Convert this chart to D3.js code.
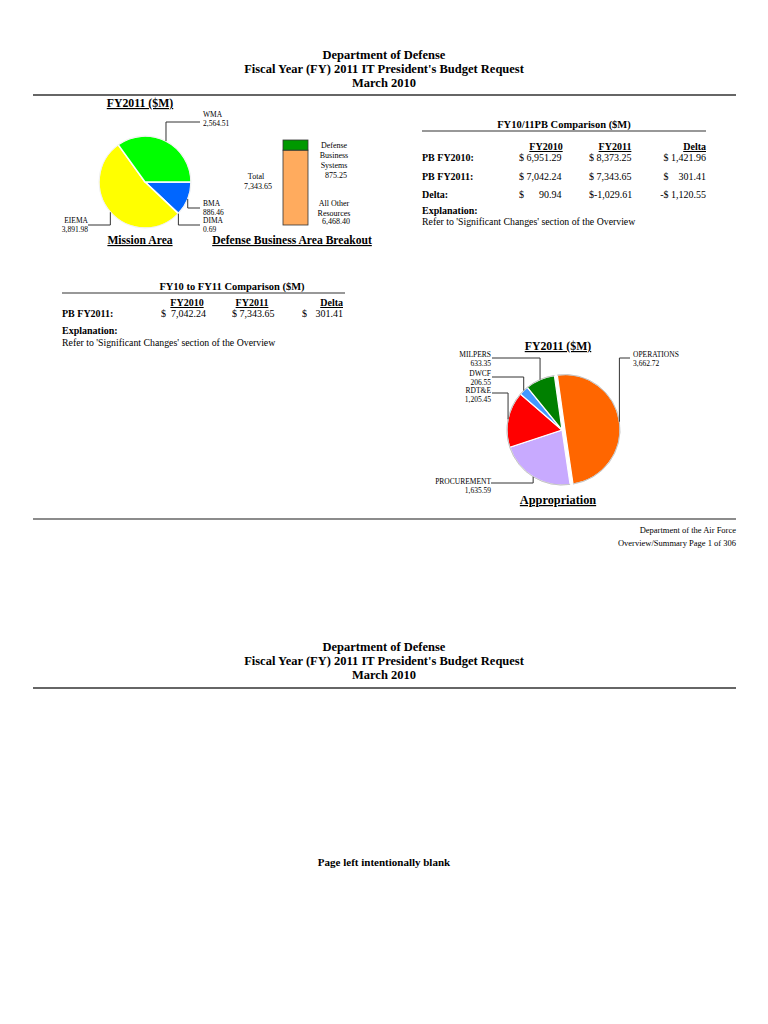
<!DOCTYPE html>
<html><head><meta charset="utf-8">
<script src="https://cdn.jsdelivr.net/npm/d3@7"></script>
<style>
html,body{margin:0;padding:0;background:#fff;}
svg{display:block;font-family:"Liberation Serif","Times New Roman",serif;}
</style></head>
<body><svg id="c" width="768" height="1024"></svg>
<script>
// ---------- data ----------
const headerLines = ["Department of Defense", "Fiscal Year (FY) 2011 IT President's Budget Request", "March 2010"];
const missionNames = ["BMA", "DIMA", "EIEMA", "WMA"];
const missionValues = [886.46, 0.69, 3891.98, 2564.51];
const missionLabels = ["886.46", "0.69", "3,891.98", "2,564.51"];
const dbaNames = ["All Other Resources", "Defense Business Systems"];
const dbaValues = [6468.40, 875.25];
const dbaTotalLabel = "7,343.65";
const apprNames = ["OPERATIONS", "PROCUREMENT", "RDT&E", "DWCF", "MILPERS"];
const apprValues = [3662.72, 1635.59, 1205.45, 206.55, 633.35];
const apprLabels = ["3,662.72", "1,635.59", "1,205.45", "206.55", "633.35"];
const cmpCols = ["FY2010", "FY2011", "Delta"];
const cmpRows = ["PB FY2010:", "PB FY2011:", "Delta:"];
const cmpCells = [["$ 6,951.29", "$ 8,373.25", "$ 1,421.96"],
                  ["$ 7,042.24", "$ 7,343.65", "$    301.41"],
                  ["$      90.94", "$-1,029.61", "-$ 1,120.55"]];
const fyRows = ["PB FY2011:"];
const fyCells = [["7,042.24", "$ 7,343.65", "301.41"]];
const explanation = "Refer to 'Significant Changes' section of the Overview";

// ---------- drawing ----------
const svg = d3.select("#c");

function txt(x, y, s, size, opts = {}) {
  const t = svg.append("text").attr("x", x).attr("y", y).text(s)
    .attr("font-size", size).attr("fill", "#000")
    .attr("font-weight", opts.bold ? "bold" : "normal")
    .attr("text-anchor", opts.anchor || "start");
  if (opts.underline) t.attr("text-decoration", "underline");
  t.style("white-space", "pre");
  return t;
}
function rule(x1, x2, y, w, c) {
  svg.append("line").attr("x1", x1).attr("x2", x2).attr("y1", y).attr("y2", y)
    .attr("stroke", c || "#555").attr("stroke-width", w || 2);
}

// page 1 header
headerLines.forEach((s, i) => txt(384, 59 + i * 14, s, 12.5, {bold: true, anchor: "middle"}));
rule(33, 736, 95, 2, "#666");

// ---------- Mission Area pie ----------
const mcx = 145, mcy = 182, mr = 46;
const missionColors = ["#0066ff", "#ffffff", "#ffff00", "#00ff00"];
const pie1 = d3.pie().sort(null).value(d => d)
  .startAngle(Math.PI / 2).endAngle(Math.PI / 2 + 2 * Math.PI);
const arcs1 = pie1(missionValues);
const arc1 = d3.arc().innerRadius(0).outerRadius(mr);
const g1 = svg.append("g").attr("transform", `translate(${mcx},${mcy})`);
g1.selectAll("path").data(arcs1).join("path")
  .attr("d", arc1).attr("fill", (d, i) => missionColors[i])
  .attr("stroke", "#fff").attr("stroke-width", 1.5);
g1.append("circle").attr("r", mr).attr("fill", "none").attr("stroke", "#e6e6e6").attr("stroke-width", 0.6);

const m1Lab = [
  {x: 200, y: 208, tx: 203, ty: 206, anchor: "start"},   // BMA
  {x: 200, y: 225, tx: 203, ty: 223, anchor: "start"},   // DIMA
  {x: 88, y: 225, tx: 88, ty: 223, anchor: "end"},       // EIEMA
  {x: 200, y: 122, tx: 203, ty: 117, anchor: "start"}    // WMA
];
arcs1.forEach((a, i) => {
  const mid = (a.startAngle + a.endAngle) / 2;
  const px = mcx + mr * Math.sin(mid), py = mcy - mr * Math.cos(mid);
  const L = m1Lab[i];
  svg.append("polyline").attr("points", `${px},${py} ${px},${L.y} ${L.x},${L.y}`)
    .attr("fill", "none").attr("stroke", "#333").attr("stroke-width", 1);
  txt(L.tx, L.ty, missionNames[i], 7.5, {anchor: L.anchor});
  txt(L.tx, L.ty + 8.5, missionLabels[i], 7.5, {anchor: L.anchor});
});
txt(140, 107, "FY2011 ($M)", 11.8, {bold: true, anchor: "middle", underline: true});
txt(140, 244, "Mission Area", 11.6, {bold: true, anchor: "middle", underline: true});

// ---------- Defense Business Area stacked bar ----------
const total = d3.sum(dbaValues);
const yb = d3.scaleLinear().domain([0, total]).range([225, 140]);
const dbaColors = ["#ffab5e", "#009900"];
let acc = 0;
dbaValues.forEach((v, i) => {
  svg.append("rect").attr("x", 283).attr("width", 25)
    .attr("y", yb(acc + v)).attr("height", yb(acc) - yb(acc + v))
    .attr("fill", dbaColors[i]).attr("stroke", "#333").attr("stroke-width", 0.8);
  acc += v;
});
txt(256, 179, "Total", 8, {anchor: "middle"});
txt(258, 189, dbaTotalLabel, 8, {anchor: "middle"});
["Defense", "Business", "Systems"].forEach((s, i) => txt(334, 148 + i * 10, s, 8, {anchor: "middle"}));
txt(336, 178, d3.format(",.2f")(dbaValues[1]), 8, {anchor: "middle"});
["All Other", "Resources"].forEach((s, i) => txt(334, 206 + i * 9.5, s, 8, {anchor: "middle"}));
txt(336, 224, d3.format(",.2f")(dbaValues[0]), 8, {anchor: "middle"});
txt(292, 244, "Defense Business Area Breakout", 11.6, {bold: true, anchor: "middle", underline: true});

// ---------- FY10/11PB comparison table ----------
txt(564, 128, "FY10/11PB Comparison ($M)", 10.5, {bold: true, anchor: "middle"});
rule(422, 706, 131, 1.2, "#333");
const colX = [546, 615, 706], colAnchor = ["middle", "middle", "end"];
cmpCols.forEach((c, i) => txt(colX[i], 150, c, 10, {bold: true, anchor: colAnchor[i], underline: true}));
const valX = [519, 589, 706];
cmpRows.forEach((r, j) => {
  const y = 161 + j * 18.5;
  txt(422, y, r, 10, {bold: true});
  cmpCells[j].forEach((v, i) => {
    if (i < 2) txt(valX[i], y, v, 10);
    else txt(valX[i], y, v, 10, {anchor: "end"});
  });
});
txt(422, 214, "Explanation:", 10, {bold: true});
txt(422, 225, explanation, 9.8);

// ---------- FY10 to FY11 comparison ----------
txt(232, 290, "FY10 to FY11 Comparison ($M)", 10.5, {bold: true, anchor: "middle"});
rule(62, 345, 293, 1.2, "#333");
const col2X = [187, 252, 343];
cmpCols.forEach((c, i) => txt(col2X[i], 306, c, 10, {bold: true, anchor: colAnchor[i], underline: true}));
fyRows.forEach((r, j) => {
  const y = 317 + j * 19;
  txt(62, y, r, 10, {bold: true});
  txt(161, y, "$", 10); txt(206, y, fyCells[j][0], 10, {anchor: "end"});
  txt(232, y, fyCells[j][1], 10);
  txt(302, y, "$", 10); txt(343, y, fyCells[j][2], 10, {anchor: "end"});
});
txt(62, 334, "Explanation:", 10, {bold: true});
txt(62, 346, explanation, 9.8);

// ---------- Appropriation pie ----------
const acx = 562, acy = 430, ar = 55;
const apprColors = ["#ff6600", "#c8aaff", "#ff0000", "#4499ff", "#008000"];
const start2 = -8 * Math.PI / 180;
const pie2 = d3.pie().sort(null).value(d => d).startAngle(start2).endAngle(start2 + 2 * Math.PI);
const arcs2 = pie2(apprValues);
const arc2 = d3.arc().innerRadius(0).outerRadius(ar);
const explode = (d, i) => {
  if (i !== 0) return null;
  const m = (d.startAngle + d.endAngle) / 2;
  return `translate(${3 * Math.sin(m)},${-3 * Math.cos(m)})`;
};
const g2 = svg.append("g").attr("transform", `translate(${acx},${acy})`);
g2.selectAll("path.s").data(arcs2).join("path").attr("class", "s")
  .attr("transform", explode)
  .attr("d", arc2).attr("fill", (d, i) => apprColors[i])
  .attr("stroke", "#fff").attr("stroke-width", 1.2);
g2.selectAll("path.o").data(arcs2).join("path").attr("class", "o")
  .attr("transform", explode)
  .attr("d", d => d3.arc().innerRadius(ar).outerRadius(ar)(d))
  .attr("fill", "none").attr("stroke", "#bbb").attr("stroke-width", 0.6);

const a2Lab = [
  {x: 630, y: 358, tx: 633, ty: 357, anchor: "start"},   // OPERATIONS
  {x: 491, y: 483, tx: 491, ty: 484, anchor: "end"},     // PROCUREMENT
  {x: 492, y: 393, tx: 491, ty: 393, anchor: "end"},     // RDT&E
  {x: 492, y: 377, tx: 491, ty: 376, anchor: "end"},     // DWCF
  {x: 492, y: 358, tx: 491, ty: 357, anchor: "end"}      // MILPERS
];
arcs2.forEach((a, i) => {
  const mid = (a.startAngle + a.endAngle) / 2;
  const off = i === 0 ? 3 : 0;
  const px = acx + (ar + off) * Math.sin(mid), py = acy - (ar + off) * Math.cos(mid);
  const L = a2Lab[i];
  svg.append("polyline").attr("points", `${px},${py} ${px},${L.y} ${L.x},${L.y}`)
    .attr("fill", "none").attr("stroke", "#333").attr("stroke-width", 1);
  txt(L.tx, L.ty, apprNames[i], 7.5, {anchor: L.anchor});
  txt(L.tx, L.ty + 8.5, apprLabels[i], 7.5, {anchor: L.anchor});
});
txt(558, 350, "FY2011 ($M)", 11.8, {bold: true, anchor: "middle", underline: true});
txt(558, 504, "Appropriation", 12.3, {bold: true, anchor: "middle", underline: true});

// footer
rule(33, 736, 519, 1.5, "#666");
txt(736, 533, "Department of the Air Force", 8.5, {anchor: "end"});
txt(736, 546, "Overview/Summary Page 1 of 306", 8.5, {anchor: "end"});

// page 2
headerLines.forEach((s, i) => txt(384, 651 + i * 14, s, 12.5, {bold: true, anchor: "middle"}));
rule(33, 736, 688, 2, "#666");
txt(384, 866, "Page left intentionally blank", 11, {bold: true, anchor: "middle"});
</script></body></html>
